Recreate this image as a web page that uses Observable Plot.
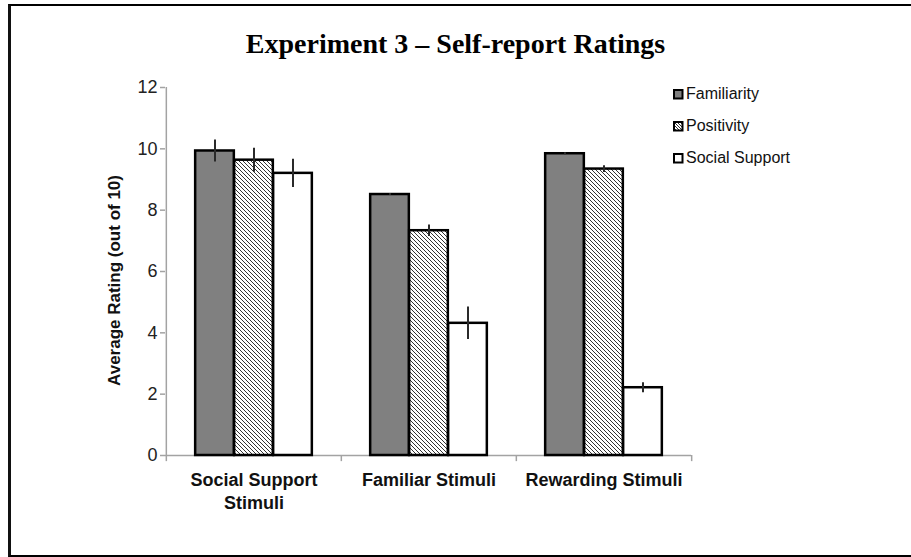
<!DOCTYPE html>
<html>
<head>
<meta charset="utf-8">
<script src="https://cdn.jsdelivr.net/npm/d3@7"></script>
<script src="https://cdn.jsdelivr.net/npm/@observablehq/plot@0.6"></script>
<style>
html, body { margin: 0; padding: 0; background: #fff; overflow: hidden; }
#wrap { position: relative; width: 911px; height: 557px; overflow: hidden; }
#frame { position: absolute; left: 8px; top: 4px; width: 1000px; height: 549px;
  border-top: 2px solid #000; border-left: 3px solid #111; border-bottom: 2px solid #000; }
#title { position: absolute; left: 0; top: 26px; width: 911px; text-align: center;
  font: bold 28px "Liberation Serif", "Times New Roman", serif; line-height: 36px; color: #000; }
#chart { position: absolute; left: 0; top: 70px; }
#legend { position: absolute; left: 0; top: 0; font: 16px "Liberation Sans", Arial, sans-serif; color: #111; }
.item { position: absolute; height: 20px; line-height: 20px; white-space: nowrap; }
.item svg { position: absolute; left: 0; top: 5px; }
.item span { position: absolute; left: 13px; top: 0; }
</style>
</head>
<body>
<div id="wrap">
  <div id="frame"></div>
  <div id="title"></div>
  <div id="chart"></div>
  <div id="legend"></div>
</div>
<script>
// ---- data ----
const title = "Experiment 3 – Self-report Ratings";
const yLabel = "Average Rating (out of 10)";
const groups = ["Social Support Stimuli", "Familiar Stimuli", "Rewarding Stimuli"];
const xLabels = ["Social Support\nStimuli", "Familiar Stimuli", "Rewarding Stimuli"];
const seriesNames = ["Familiarity", "Positivity", "Social Support"];
const familiarity = [9.93, 8.51, 9.84];
const familiarityErr = [0.36, 0.03, 0.03];
const positivity = [9.63, 7.33, 9.34];
const positivityErr = [0.39, 0.19, 0.11];
const socialSupport = [9.20, 4.31, 2.21];
const socialSupportErr = [0.46, 0.53, 0.16];
const yTicks = [0, 2, 4, 6, 8, 10, 12];

// ---- layout / style ----
const W = 911, H = 487, mL = 165, mR = 220, mT = 17, mB = 102;
const bw = (W - mL - mR) / groups.length;
const barW = 39;
const inset = (bw - barW) / 2;
const offsets = [-barW, 0, barW];
const fills = ["#808080", "url(#hatch)", "#ffffff"];
const axisGray = "#a3a3a3";

const seriesValues = [familiarity, positivity, socialSupport];
const seriesErrs = [familiarityErr, positivityErr, socialSupportErr];
const rowsBySeries = seriesNames.map((s, k) =>
  groups.map((g, i) => ({group: g, series: s, value: seriesValues[k][i], err: seriesErrs[k][i]})));

document.getElementById("title").textContent = title;

const barMarks = rowsBySeries.map((rows, k) =>
  Plot.barY(rows, {x: "group", y: "value", fill: fills[k], stroke: "#000", strokeWidth: 2.5,
    insetLeft: inset, insetRight: inset, dx: offsets[k]}));
const errMarks = rowsBySeries.map((rows, k) =>
  Plot.ruleX(rows, {x: "group", y1: d => d.value - d.err, y2: d => d.value + d.err,
    dx: offsets[k], stroke: "#2a2a2a", strokeWidth: 2}));

const chart = Plot.plot({
  width: W, height: H,
  marginLeft: mL, marginRight: mR, marginTop: mT, marginBottom: mB,
  style: {fontFamily: "'Liberation Sans', Arial, sans-serif", fontSize: "16px", background: "transparent", color: "#111"},
  x: {domain: groups, padding: 0},
  y: {domain: [0, 12]},
  marks: [
    Plot.ruleY([0], {stroke: axisGray, strokeWidth: 1.5}),
    Plot.ruleX(groups, {x: d => d, y1: 0, y2: -0.2, dx: -bw / 2, stroke: axisGray, strokeWidth: 1.5}),
    Plot.ruleX(groups.slice(-1), {x: d => d, y1: 0, y2: -0.2, dx: bw / 2, stroke: axisGray, strokeWidth: 1.5}),
    Plot.ruleX(groups.slice(0, 1), {x: d => d, y1: 0, y2: 12, dx: -bw / 2, stroke: axisGray, strokeWidth: 1.5}),
    Plot.axisY(yTicks, {tickSize: 5, stroke: axisGray, strokeWidth: 1.5, fill: "none", label: null}),
    Plot.text(yTicks, {y: d => d, text: d => String(d), frameAnchor: "left", dx: -8,
      textAnchor: "end", fontSize: 18, fill: "#222"}),
    Plot.axisX({tickSize: 0, tickPadding: 15, tickFormat: d => xLabels[groups.indexOf(d)],
      fontWeight: "bold", fontSize: 18, lineHeight: 1.25, fill: "#111", label: null}),
    ...barMarks,
    ...errMarks,
    Plot.text([yLabel], {frameAnchor: "left", text: d => d, rotate: -90, dx: -51, dy: 9,
      textAnchor: "middle", fontWeight: "bold", fontSize: 17, fill: "#111"})
  ]
});
document.getElementById("chart").appendChild(chart);

const svg = chart.tagName.toLowerCase() === "svg" ? chart : chart.querySelector("svg");
d3.select(svg).insert("defs", ":first-child").html(
  '<pattern id="hatch" patternUnits="userSpaceOnUse" width="4" height="4">' +
  '<rect width="4" height="4" fill="#fff"/>' +
  '<path d="M-1,-1L1,1M0,0L4,4M3,3L5,5" stroke="#333" stroke-width="1"/></pattern>');

// ---- legend ----
const legend = d3.select("#legend");
const legendTop = [83.5, 115.5, 147.5];
seriesNames.forEach((s, k) => {
  const item = legend.append("div").attr("class", "item")
    .style("left", "673px").style("top", legendTop[k] + "px");
  const sw = item.append("svg").attr("width", 11).attr("height", 11);
  if (k === 1) {
    sw.append("defs").html(
      '<pattern id="hatchL" patternUnits="userSpaceOnUse" width="3" height="3">' +
      '<rect width="3" height="3" fill="#fff"/>' +
      '<path d="M-1,-1L1,1M0,0L3,3M2,2L4,4" stroke="#333" stroke-width="1"/></pattern>');
  }
  sw.append("rect").attr("x", 1).attr("y", 1).attr("width", 8.5).attr("height", 8.5)
    .attr("fill", k === 1 ? "url(#hatchL)" : fills[k]).attr("stroke", "#000").attr("stroke-width", 2);
  item.append("span").text(s);
});
</script>
</body>
</html>
